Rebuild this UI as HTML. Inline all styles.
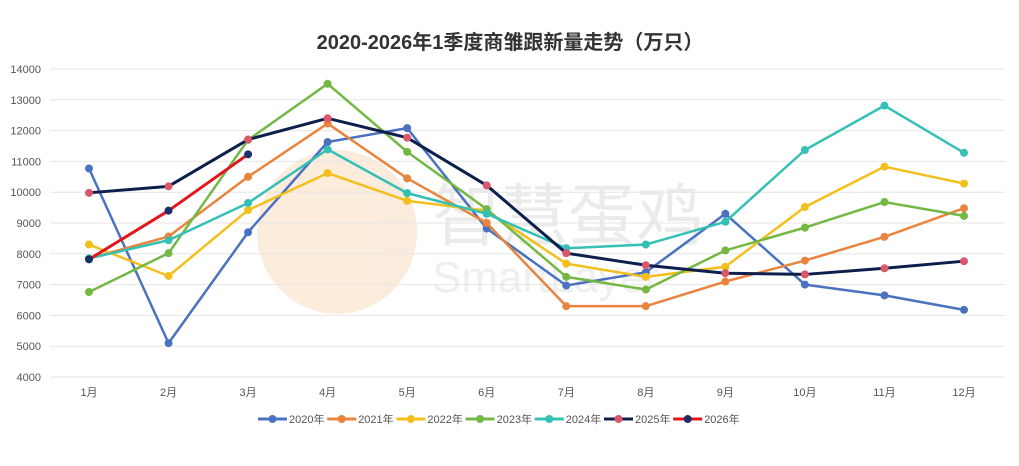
<!DOCTYPE html>
<html><head><meta charset="utf-8"><style>
body{margin:0;background:#fff;font-family:"Liberation Sans","Noto Sans CJK SC",sans-serif;}
svg text{font-family:"Liberation Sans","Noto Sans CJK SC",sans-serif;}
</style></head><body>
<svg id="chart" width="1019" height="461" viewBox="0 0 1019 461">
<text x="510" y="49" text-anchor="middle" font-size="20" font-weight="bold" fill="#333">2020-2026年1季度商雏跟新量走势（万只）</text>
<g opacity="0.55">
<ellipse cx="337" cy="232" rx="80" ry="82" fill="#f8dcc0"/>
<text x="432" y="240" font-size="68" fill="#dcdcdc">智慧蛋鸡</text>
<text x="432" y="292" font-size="44" fill="#e2e2e2">SmartLayer</text>
</g>
<g id="grid"></g><g id="series"></g><g id="legend"></g>
</svg>
<script>
const categories=["1月","2月","3月","4月","5月","6月","7月","8月","9月","10月","11月","12月"];
const yTicks=[4000,5000,6000,7000,8000,9000,10000,11000,12000,13000,14000];
const seriesNames=["2020年","2021年","2022年","2023年","2024年","2025年","2026年"];
const s2020=[10770,5100,8700,11630,12080,8820,6970,7400,9300,7000,6650,6180];
const s2021=[7850,8560,10500,12230,10450,9000,6300,6300,7100,7780,8550,9480];
const s2022=[8300,7280,9420,10620,9720,9400,7680,7250,7580,9520,10830,10280];
const s2023=[6760,8020,11700,13520,11310,9450,7250,6840,8110,8850,9680,9230];
const s2024=[7850,8440,9650,11390,9970,9300,8180,8300,9040,11370,12810,11280];
const s2025=[9980,10190,11710,12400,11770,10220,8020,7630,7370,7330,7530,7760];
const s2026=[7820,9400,11230];
const lineColors=["#4a72c0","#e8843d","#f2bf1c","#72b843","#35c0b5","#0d1f4d","#e3171b"];
const markerColors=["#4a72c0","#e8843d","#f2bf1c","#72b843","#35c0b5","#d9566b","#1b2f6b"];
const allSeries=[s2020,s2021,s2022,s2023,s2024,s2025,s2026];
const NS="http://www.w3.org/2000/svg";
const x0=89,x1=964,yTop=69,yBot=377,vMin=4000,vMax=14000;
function xs(i){return x0+i*(x1-x0)/(categories.length-1);}
function ys(v){return yBot-(v-vMin)/(vMax-vMin)*(yBot-yTop);}
function mk(tag,attrs,parent){const e=document.createElementNS(NS,tag);for(const k in attrs)e.setAttribute(k,attrs[k]);parent.appendChild(e);return e;}
const grid=document.getElementById('grid');
yTicks.forEach(t=>{
 const l=mk('line',{x1:50,x2:1005,y1:ys(t),y2:ys(t),stroke:'#e6e6e6','stroke-width':1},grid);
 
 
 const tx=mk('text',{x:41,y:ys(t)+4,'text-anchor':'end','font-size':11,fill:'#555'},grid);
 tx.textContent=t;
 
 
});
categories.forEach((c,i)=>{
 const tx=mk('text',{x:xs(i),y:396,'text-anchor':'middle','font-size':11,fill:'#555'},grid);
 tx.textContent=c;
 
 
});
const sg=document.getElementById('series');
allSeries.forEach((s,k)=>{
 const g=mk('g',{},sg);
 
 
 mk('polyline',{points:s.map((v,i)=>xs(i)+','+ys(v)).join(' '),fill:'none',stroke:lineColors[k],'stroke-width':k>=5?3:2.5,'stroke-linejoin':'round'},g);
 s.forEach((v,i)=>{
  const c=mk('circle',{cx:xs(i),cy:ys(v),r:4,fill:markerColors[k]},g);
  
  
 });
});
const lg=document.getElementById('legend');
seriesNames.forEach((n,k)=>{
 const x=258+k*69.2,y=419;
 const g=mk('g',{},lg);
 
 
 mk('line',{x1:x,x2:x+29,y1:y,y2:y,stroke:lineColors[k],'stroke-width':3},g);
 mk('circle',{cx:x+14.5,cy:y,r:4,fill:markerColors[k]},g);
 const t=mk('text',{x:x+31,y:y+4,'font-size':11,fill:'#555'},g);
 t.textContent=n;
});
</script>
</body></html>
